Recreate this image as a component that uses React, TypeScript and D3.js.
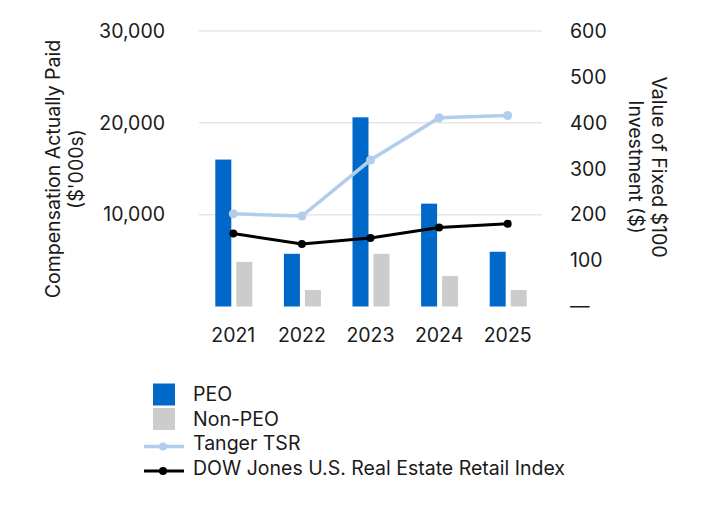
import React from 'react';
import * as d3 from 'd3';

const years = ['2021', '2022', '2023', '2024', '2025'];
const peo = [16000, 5740, 20600, 11200, 5960];
const nonPeo = [4860, 1800, 5740, 3330, 1800];
const tangerTsr = [202, 197, 319, 411, 416];
const dowJones = [159, 136, 149, 172, 180];
const leftTicks = [10000, 20000, 30000];
const rightTicks = [0, 100, 200, 300, 400, 500, 600];

const COLORS = {
  peo: '#0068c8',
  nonPeo: '#cccccc',
  tsr: '#b0cdec',
  dow: '#000000',
  grid: '#e6e6e6',
  text: '#1a1a1a',
};

const FONT = 'Inter, "Noto Sans", sans-serif';
const FS = 19.5;

const App: React.FC = () => {
  const width = 710;
  const height = 518;
  const plotLeft = 199;
  const plotRight = 542;
  const plotTop = 31;
  const plotBottom = 306.5;

  const x = d3.scaleBand<string>().domain(years).range([plotLeft, plotRight]).padding(0);
  const yLeft = d3.scaleLinear().domain([0, 30000]).range([plotBottom, plotTop]);
  const yRight = d3.scaleLinear().domain([0, 600]).range([plotBottom, plotTop]);

  const barW = 16;
  const gap = 5;
  const center = (yr: string) => (x(yr) ?? 0) + x.bandwidth() / 2;

  const line = d3
    .line<number>()
    .x((_, i) => center(years[i]))
    .y((d) => yRight(d));

  const fmt = d3.format(',');

  const legend = [
    { label: 'PEO', type: 'rect', color: COLORS.peo },
    { label: 'Non-PEO', type: 'rect', color: COLORS.nonPeo },
    { label: 'Tanger TSR', type: 'line', color: COLORS.tsr },
    { label: 'DOW Jones U.S. Real Estate Retail Index', type: 'line', color: COLORS.dow },
  ];

  return (
    <svg
      width={width}
      height={height}
      style={{ position: 'absolute', left: 0, top: 0, background: '#fff' }}
      fontFamily={FONT}
    >
      {/* gridlines */}
      {leftTicks.map((t) => (
        <line
          key={t}
          x1={plotLeft}
          x2={plotRight}
          y1={yLeft(t)}
          y2={yLeft(t)}
          stroke={COLORS.grid}
          strokeWidth={1.5}
        />
      ))}

      {/* left axis */}
      {leftTicks.map((t) => (
        <text
          key={t}
          x={165}
          y={yLeft(t)}
          dy="0.35em"
          textAnchor="end"
          fontSize={FS}
          fill={COLORS.text}
        >
          {fmt(t)}
        </text>
      ))}
      <text
        transform={`translate(62, 169) rotate(-90)`}
        textAnchor="middle"
        fontSize={FS}
        fill={COLORS.text}
      >
        <tspan x={0} dy="-0.1em">Compensation Actually Paid</tspan>
        <tspan x={0} dy="1.2em">($'000s)</tspan>
      </text>

      {/* right axis */}
      {rightTicks.map((t) => (
        <text
          key={t}
          x={570}
          y={yRight(t)}
          dy="0.35em"
          textAnchor="start"
          fontSize={FS}
          fill={COLORS.text}
        >
          {t === 0 ? '—' : t}
        </text>
      ))}
      <text
        transform={`translate(652, 167) rotate(90)`}
        textAnchor="middle"
        fontSize={FS}
        fill={COLORS.text}
      >
        <tspan x={0} dy="0em">Value of Fixed $100</tspan>
        <tspan x={0} dy="1.2em">Investment ($)</tspan>
      </text>

      {/* bars */}
      {years.map((yr, i) => (
        <g key={yr}>
          <rect
            x={center(yr) - barW - gap / 2 + 0.5}
            y={yLeft(peo[i])}
            width={barW}
            height={yLeft(0) - yLeft(peo[i])}
            fill={COLORS.peo}
          />
          <rect
            x={center(yr) + gap / 2 + 0.5}
            y={yLeft(nonPeo[i])}
            width={barW}
            height={yLeft(0) - yLeft(nonPeo[i])}
            fill={COLORS.nonPeo}
          />
        </g>
      ))}

      {/* lines */}
      <path d={line(tangerTsr) ?? ''} fill="none" stroke={COLORS.tsr} strokeWidth={3.5} />
      {tangerTsr.map((v, i) => (
        <circle key={i} cx={center(years[i])} cy={yRight(v)} r={4.5} fill={COLORS.tsr} />
      ))}
      <path d={line(dowJones) ?? ''} fill="none" stroke={COLORS.dow} strokeWidth={3} />
      {dowJones.map((v, i) => (
        <circle key={i} cx={center(years[i])} cy={yRight(v)} r={4} fill={COLORS.dow} />
      ))}

      {/* x axis labels */}
      {years.map((yr) => (
        <text
          key={yr}
          x={center(yr)}
          y={335}
          dy="0.35em"
          textAnchor="middle"
          fontSize={FS}
          fill={COLORS.text}
        >
          {yr}
        </text>
      ))}

      {/* legend */}
      {legend.map((item, i) => {
        const cy = 394.5 + i * 24.5;
        return (
          <g key={item.label}>
            {item.type === 'rect' ? (
              <rect x={153} y={cy - 11} width={22} height={22} fill={item.color} />
            ) : (
              <g>
                <line
                  x1={144}
                  x2={184}
                  y1={cy + 3}
                  y2={cy + 3}
                  stroke={item.color}
                  strokeWidth={item.color === COLORS.dow ? 3 : 3.5}
                />
                <circle cx={163} cy={cy + 3} r={4} fill={item.color} />
              </g>
            )}
            <text x={193} y={cy} dy="0.35em" fontSize={FS} fill={COLORS.text}>
              {item.label}
            </text>
          </g>
        );
      })}
    </svg>
  );
};

export default App;
